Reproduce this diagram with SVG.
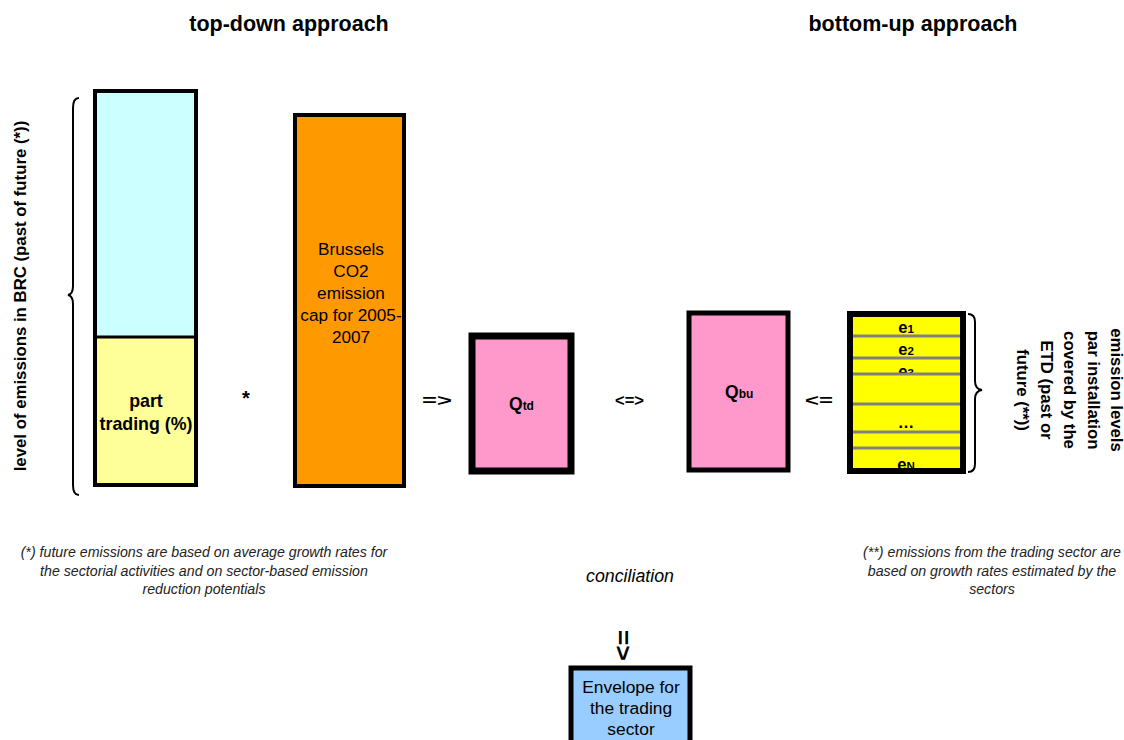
<svg xmlns="http://www.w3.org/2000/svg" width="1124" height="740" viewBox="0 0 1124 740">
<style>
text{font-family:"Liberation Sans",Arial,sans-serif;fill:#000}
.title{font-size:21.5px;font-weight:bold;text-anchor:middle}
.b{font-weight:bold}
.m{text-anchor:middle}
.note{font-size:14.2px;font-style:italic;text-anchor:middle;fill:#222}
.box{stroke:#000}
.brace{fill:none;stroke:#000;stroke-width:2}
.sep{stroke:#808080;stroke-width:3}
</style>
<rect width="1124" height="740" fill="#fff"/>
<text class="title" x="289" y="31">top-down approach</text>
<text class="title" x="913" y="31">bottom-up approach</text>

<g id="total-emissions">
<rect x="95" y="91" width="101" height="394" fill="#ccffff" class="box" stroke-width="4"/>
</g>
<g id="part-trading">
<rect x="95" y="337" width="101" height="148" fill="#ffff99" class="box" stroke-width="3"/>
<rect x="95" y="91" width="101" height="394" fill="none" class="box" stroke-width="4"/>
<text class="b m" font-size="17.8" x="146" y="407">part</text>
<text class="b m" font-size="17.8" x="146" y="430">trading (%)</text>
</g>
<g id="brussels-cap">
<rect x="295" y="115" width="109" height="371" fill="#ff9900" class="box" stroke-width="4"/>
<text class="m" font-size="17.2" x="351" y="255">Brussels</text>
<text class="m" font-size="17.2" x="351" y="277">CO2</text>
<text class="m" font-size="17.2" x="351" y="299">emission</text>
<text class="m" font-size="17.2" x="351" y="321">cap for 2005-</text>
<text class="m" font-size="17.2" x="351" y="343">2007</text>
</g>
<g id="q-td">
<rect x="472" y="336" width="99" height="135" fill="#ff99cc" class="box" stroke-width="7"/>
<text class="b" font-size="17.5" x="509" y="410">Q<tspan font-size="12">td</tspan></text>
</g>
<g id="q-bu">
<rect x="689" y="313" width="99" height="157" fill="#ff99cc" class="box" stroke-width="5"/>
<text class="b" font-size="17.5" x="725" y="398">Q<tspan font-size="12">bu</tspan></text>
</g>
<g id="installations">
<rect x="850" y="314" width="113" height="157" fill="#ffff00" class="box" stroke-width="6"/>
<text class="b m" font-size="16.5" x="906" y="333">e<tspan font-size="11.5">1</tspan></text>
<text class="b m" font-size="16.5" x="906" y="355">e<tspan font-size="11.5">2</tspan></text>
<text class="b m" font-size="16.5" x="906" y="377">e<tspan font-size="11.5">3</tspan></text>
<text class="b m" font-size="16.5" x="906" y="428">…</text>
<text class="b m" font-size="16.5" x="906" y="470">e<tspan font-size="11.5">N</tspan></text>
<rect x="853" y="375" width="107" height="5" fill="#ffff00"/>
<line class="sep" x1="853" y1="336" x2="960" y2="336"/>
<line class="sep" x1="853" y1="358" x2="960" y2="358"/>
<line class="sep" x1="853" y1="374" x2="960" y2="374"/>
<line class="sep" x1="853" y1="404" x2="960" y2="404"/>
<line class="sep" x1="853" y1="432" x2="960" y2="432"/>
<line class="sep" x1="853" y1="448" x2="960" y2="448"/>
<rect x="850" y="314" width="113" height="157" fill="none" class="box" stroke-width="6"/>
</g>
<g id="envelope">
<rect x="571" y="668" width="119" height="80" fill="#99ccff" class="box" stroke-width="5"/>
<text class="m" font-size="17.4" x="631" y="693">Envelope for</text>
<text class="m" font-size="17.4" x="631" y="714">the trading</text>
<text class="m" font-size="17.4" x="631" y="735">sector</text>
</g>

<g id="connectors">
<path class="brace" d="M79,98 q-6,0 -6,10 v178 q0,8 -5,9 q5,1 5,9 v181 q0,10 6,10"/>
<path class="brace" d="M968,314 q7,0 7,8 v59 q0,8 7,9 q-7,1 -7,9 v65 q0,8 -7,8"/>
<text class="b m" font-size="20" x="246" y="405">*</text>
<text class="b" font-size="16.5" transform="translate(422,406) scale(1.55,1)">=&gt;</text>
<text class="b" font-size="16.5" x="615" y="406">&lt;=&gt;</text>
<text class="b" font-size="16.5" transform="translate(805,406) scale(1.45,1)">&lt;=</text>
<text class="b" font-size="24" transform="translate(615,630) rotate(90) scale(1.1,1)">=&gt;</text>
</g>

<text class="b m" font-size="16.8" transform="translate(26,296) rotate(-90)">level of emissions in BRC (past of future (*))</text>
<text class="b m" font-size="16.7" transform="translate(1111,390) rotate(90)"><tspan x="0" dy="0">emission levels</tspan><tspan x="0" dy="23.5">par installation</tspan><tspan x="0" dy="23.5">covered by the</tspan><tspan x="0" dy="23.5">ETD (past or</tspan><tspan x="0" dy="23.5">future (**))</tspan></text>

<text class="note" x="204" y="557">(*) future emissions are based on average growth rates for</text>
<text class="note" x="204" y="576">the sectorial activities and on sector-based emission</text>
<text class="note" x="204" y="594">reduction potentials</text>
<text class="note" x="992" y="557">(**) emissions from the trading sector are</text>
<text class="note" x="992" y="576">based on growth rates estimated by the</text>
<text class="note" x="992" y="594">sectors</text>
<text font-size="17.8" font-style="italic" text-anchor="middle" x="630" y="582">conciliation</text>
</svg>
